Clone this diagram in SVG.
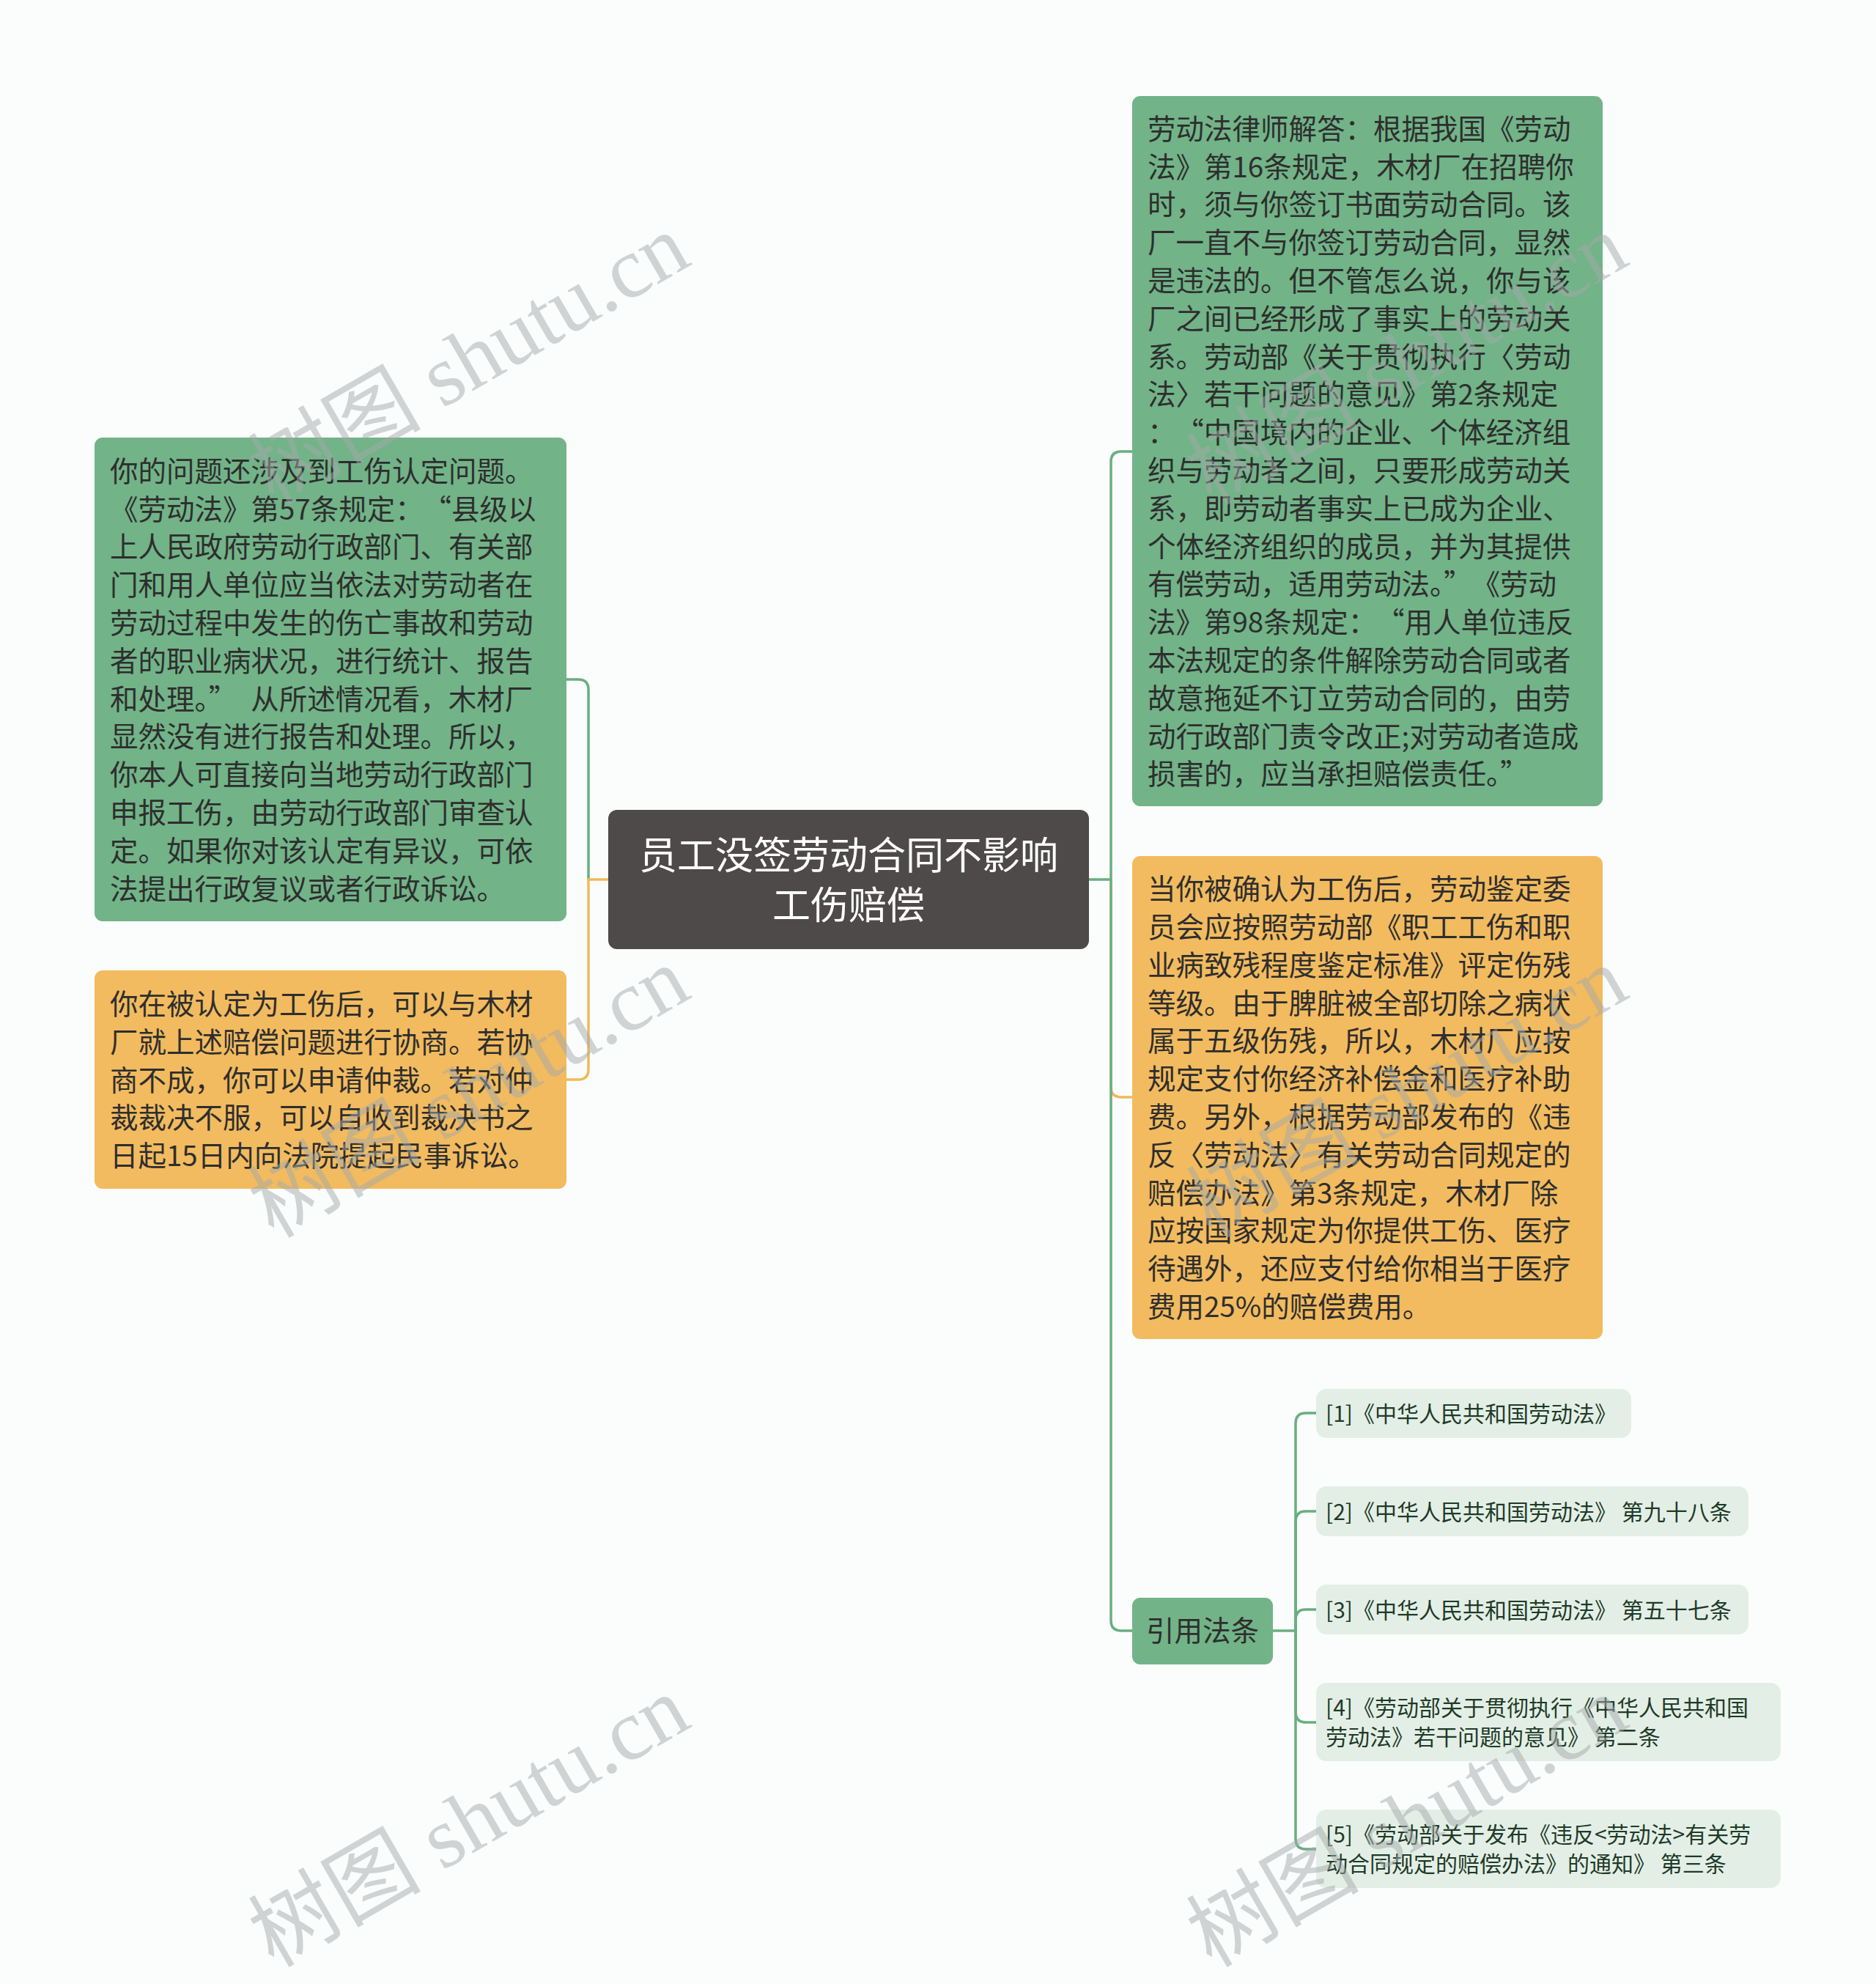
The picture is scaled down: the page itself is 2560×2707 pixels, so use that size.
<svg xmlns="http://www.w3.org/2000/svg" width="2560" height="2707" viewBox="0 0 2560 2707">
<style>
.bg{fill:#fbfdfd}
.green{fill:#72b388}
.orange{fill:#f2bb5f}
.cite{fill:#e3efe6}
.t{font-family:"Noto Sans CJK SC","Noto Sans",sans-serif;font-size:38.5px;fill:#2e2e2e}
.ct{font-family:"Noto Sans CJK SC","Noto Sans",sans-serif;font-size:52px;fill:#ffffff;text-anchor:middle}
.ft{font-family:"Noto Sans CJK SC","Noto Sans",sans-serif;font-size:30px;fill:#1f3a28}
.gl{fill:none;stroke:#6aae80;stroke-width:3.5}
.ol{fill:none;stroke:#f0b95a;stroke-width:3.5}
.wm{font-family:"Liberation Serif","Noto Sans CJK SC",serif;font-size:118px;fill:#a4abab;opacity:0.5;text-anchor:middle}
</style>
<rect class="bg" x="0" y="0" width="2560" height="2707"/>
<g id="connectors">
<path class="gl" d="M803,1200 V941 Q803,927 789,927 H773"/>
<path class="ol" d="M830,1200 H803 V1459 Q803,1473 789,1473 H773"/>
<path class="ol" d="M1516,1200 V1483 Q1516,1497 1530,1497 H1545"/>
<path class="gl" d="M1486,1200 H1516 V630 Q1516,616 1530,616 H1545"/>
<path class="gl" d="M1516,1200 V2211 Q1516,2225 1530,2225 H1545"/>
<path class="gl" d="M1737,2225 H1768 V1942 Q1768,1928 1782,1928 H1796"/>
<path class="gl" d="M1768,2225 V2076 Q1768,2062 1782,2062 H1796"/>
<path class="gl" d="M1768,2225 V2210 Q1768,2196 1782,2196 H1796"/>
<path class="gl" d="M1768,2225 V2336 Q1768,2350 1782,2350 H1796"/>
<path class="gl" d="M1768,2225 V2509 Q1768,2523 1782,2523 H1796"/>
</g>
<g id="root">
<rect x="830" y="1105" width="656" height="190" rx="12" fill="#4f4a4a"/>
<text class="ct"><tspan x="1158" y="1186">员工没签劳动合同不影响</tspan><tspan x="1158" y="1254">工伤赔偿</tspan></text>
</g>
<g id="left-green">
<rect class="green" x="129" y="597" width="644" height="660" rx="11"/>
<text class="t">
<tspan x="150" y="656.7">你的问题还涉及到工伤认定问题。</tspan>
<tspan x="150" y="708.5">《劳动法》第57条规定：<tspan dx="19">“县级以</tspan></tspan>
<tspan x="150" y="760.3">上人民政府劳动行政部门、有关部</tspan>
<tspan x="150" y="812.1">门和用人单位应当依法对劳动者在</tspan>
<tspan x="150" y="863.9">劳动过程中发生的伤亡事故和劳动</tspan>
<tspan x="150" y="915.7">者的职业病状况，进行统计、报告</tspan>
<tspan x="150" y="967.5">和处理。”<tspan dx="19">从所述情况看，木材厂</tspan></tspan>
<tspan x="150" y="1019.3">显然没有进行报告和处理。所以，</tspan>
<tspan x="150" y="1071.1">你本人可直接向当地劳动行政部门</tspan>
<tspan x="150" y="1122.9">申报工伤，由劳动行政部门审查认</tspan>
<tspan x="150" y="1174.7">定。如果你对该认定有异议，可依</tspan>
<tspan x="150" y="1226.5">法提出行政复议或者行政诉讼。</tspan>
</text>
</g>
<g id="left-orange">
<rect class="orange" x="129" y="1324" width="644" height="298" rx="11"/>
<text class="t">
<tspan x="150" y="1384">你在被认定为工伤后，可以与木材</tspan>
<tspan x="150" y="1435.8">厂就上述赔偿问题进行协商。若协</tspan>
<tspan x="150" y="1487.6">商不成，你可以申请仲裁。若对仲</tspan>
<tspan x="150" y="1539.4">裁裁决不服，可以自收到裁决书之</tspan>
<tspan x="150" y="1591.2">日起15日内向法院提起民事诉讼。</tspan>
</text>
</g>
<g id="right-green">
<rect class="green" x="1545" y="131" width="642" height="969" rx="11"/>
<text class="t">
<tspan x="1566" y="189.8">劳动法律师解答：根据我国《劳动</tspan>
<tspan x="1566" y="241.6">法》第16条规定，木材厂在招聘你</tspan>
<tspan x="1566" y="293.4">时，须与你签订书面劳动合同。该</tspan>
<tspan x="1566" y="345.2">厂一直不与你签订劳动合同，显然</tspan>
<tspan x="1566" y="397">是违法的。但不管怎么说，你与该</tspan>
<tspan x="1566" y="448.8">厂之间已经形成了事实上的劳动关</tspan>
<tspan x="1566" y="500.6">系。劳动部《关于贯彻执行〈劳动</tspan>
<tspan x="1566" y="552.4">法〉若干问题的意见》第2条规定</tspan>
<tspan x="1566" y="604.2">：<tspan dx="19">“中国境内的企业、个体经济组</tspan></tspan>
<tspan x="1566" y="656">织与劳动者之间，只要形成劳动关</tspan>
<tspan x="1566" y="707.8">系，即劳动者事实上已成为企业、</tspan>
<tspan x="1566" y="759.6">个体经济组织的成员，并为其提供</tspan>
<tspan x="1566" y="811.4">有偿劳动，适用劳动法。”<tspan dx="19">《劳动</tspan></tspan>
<tspan x="1566" y="863.2">法》第98条规定：<tspan dx="19">“用人单位违反</tspan></tspan>
<tspan x="1566" y="915">本法规定的条件解除劳动合同或者</tspan>
<tspan x="1566" y="966.8">故意拖延不订立劳动合同的，由劳</tspan>
<tspan x="1566" y="1018.6">动行政部门责令改正;对劳动者造成</tspan>
<tspan x="1566" y="1070.4">损害的，应当承担赔偿责任。”</tspan>
</text>
</g>
<g id="right-orange">
<rect class="orange" x="1545" y="1168" width="642" height="659" rx="11"/>
<text class="t">
<tspan x="1566" y="1227.2">当你被确认为工伤后，劳动鉴定委</tspan>
<tspan x="1566" y="1279">员会应按照劳动部《职工工伤和职</tspan>
<tspan x="1566" y="1330.8">业病致残程度鉴定标准》评定伤残</tspan>
<tspan x="1566" y="1382.6">等级。由于脾脏被全部切除之病状</tspan>
<tspan x="1566" y="1434.4">属于五级伤残，所以，木材厂应按</tspan>
<tspan x="1566" y="1486.2">规定支付你经济补偿金和医疗补助</tspan>
<tspan x="1566" y="1538">费。另外，根据劳动部发布的《违</tspan>
<tspan x="1566" y="1589.8">反〈劳动法〉有关劳动合同规定的</tspan>
<tspan x="1566" y="1641.6">赔偿办法》第3条规定，木材厂除</tspan>
<tspan x="1566" y="1693.4">应按国家规定为你提供工伤、医疗</tspan>
<tspan x="1566" y="1745.2">待遇外，还应支付给你相当于医疗</tspan>
<tspan x="1566" y="1797">费用25%的赔偿费用。</tspan>
</text>
</g>
<g id="cite-root">
<rect class="green" x="1545" y="2180" width="192" height="91" rx="11"/>
<text class="t" x="1641" y="2239" text-anchor="middle">引用法条</text>
</g>
<g id="cite-1">
<rect class="cite" x="1796" y="1895" width="430" height="67" rx="14"/>
<text class="ft" x="1809" y="1940">[1]《中华人民共和国劳动法》</text>
</g>
<g id="cite-2">
<rect class="cite" x="1796" y="2028" width="590" height="68" rx="14"/>
<text class="ft" x="1809" y="2074">[2]《中华人民共和国劳动法》 第九十八条</text>
</g>
<g id="cite-3">
<rect class="cite" x="1796" y="2162" width="590" height="68" rx="14"/>
<text class="ft" x="1809" y="2208">[3]《中华人民共和国劳动法》 第五十七条</text>
</g>
<g id="cite-4">
<rect class="cite" x="1796" y="2296" width="634" height="107" rx="14"/>
<text class="ft"><tspan x="1809" y="2341">[4]《劳动部关于贯彻执行《中华人民共和国</tspan><tspan x="1809" y="2381">劳动法》若干问题的意见》 第二条</tspan></text>
</g>
<g id="cite-5">
<rect class="cite" x="1796" y="2469" width="634" height="107" rx="14"/>
<text class="ft"><tspan x="1809" y="2514">[5]《劳动部关于发布《违反&lt;劳动法&gt;有关劳</tspan><tspan x="1809" y="2554">动合同规定的赔偿办法》的通知》 第三条</tspan></text>
</g>
<g id="watermark">
<text class="wm" transform="translate(660,525) rotate(-30)">树图 shutu.cn</text>
<text class="wm" transform="translate(660,1525) rotate(-30)">树图 shutu.cn</text>
<text class="wm" transform="translate(660,2520) rotate(-30)">树图 shutu.cn</text>
<text class="wm" transform="translate(1940,525) rotate(-30)">树图 shutu.cn</text>
<text class="wm" transform="translate(1940,1525) rotate(-30)">树图 shutu.cn</text>
<text class="wm" transform="translate(1940,2520) rotate(-30)">树图 shutu.cn</text>
</g>
</svg>
